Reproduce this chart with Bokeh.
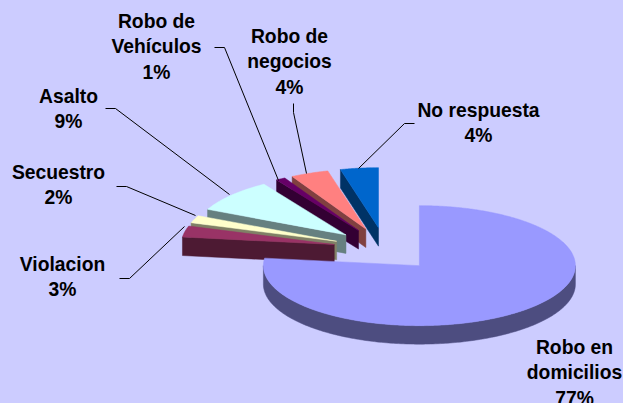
import numpy as np
from bokeh.plotting import figure
from bokeh.embed import file_html
from bokeh.resources import INLINE
from bokeh.core.properties import value

categories = ["Robo en domicilios", "Violacion", "Secuestro", "Asalto", "Robo de Vehículos", "Robo de negocios", "No respuesta"]
shares = [77, 3, 2, 9, 1, 4, 4]
label_lines = [["Robo en", "domicilios", "77%"], ["Violacion", "3%"], ["Secuestro", "2%"], ["Asalto", "9%"],
               ["Robo de", "Vehículos", "1%"], ["Robo de", "negocios", "4%"], ["No respuesta", "4%"]]
top_colors = ["#9999FF", "#993366", "#FFFFCC", "#CCFFFF", "#660066", "#FF8080", "#0066CC"]
wall_colors = ["#4D4D80", "#4D1A33", "#808066", "#668080", "#330033", "#804040", "#003366"]
label_anchor = [(574, 346.5), (62, 263.5), (58, 171.5), (68, 95.5), (156, 20.5), (289, 35.5), (478, 109.5)]
leaders = [None,
           [(119, 278), (129, 278), (184, 226)],
           [(116, 186), (126, 186), (195, 215)],
           [(105, 108), (115, 108), (229, 194)],
           [(214, 47), (224, 47), (278, 180)],
           [(293, 103), (293, 112), (306, 173)],
           [(414, 123), (404, 123), (358, 168)]]

W, H = 623, 403
CX, CY, RX_MAIN, RX_SLICE, RY, EXPLODE_X, EXPLODE_Y, DEPTH = 384.5, 248.8, 156, 153, 60, 52, 21.8, 18.5
BG = "#CCCCFF"
FONT = "Liberation Sans"

p = figure(width=W, height=H, x_range=(0, W), y_range=(H, 0), output_backend="svg",
           toolbar_location=None, min_border=0, outline_line_color=None,
           background_fill_color=BG, border_fill_color=BG)
p.axis.visible = False
p.grid.visible = False


def pt(ax, ay, deg, rx):
    t = np.radians(deg)
    return ax + rx * np.sin(t), ay - RY * np.cos(t)


edges = np.concatenate([[0], np.cumsum(shares)]) * 360.0 / sum(shares)
order = [6, 5, 4, 3, 2, 1, 0]
for i in order:
    rx = RX_MAIN if i == 0 else RX_SLICE
    a0, a1 = edges[i], edges[i + 1]
    mid = np.radians((a0 + a1) / 2)
    ax = CX + EXPLODE_X * np.sin(mid)
    ay = CY - EXPLODE_Y * np.cos(mid)
    ts = np.linspace(a0, a1, max(6, int(a1 - a0) * 2))
    ox, oy = pt(ax, ay, ts, rx)
    # outer wall (only the front half of the rim shows)
    lo, hi = max(a0, 90), min(a1, 270)
    if hi > lo:
        tw = np.linspace(lo, hi, 200)
        wx, wy = pt(ax, ay, tw, rx)
        p.patch(np.r_[wx, wx[::-1]], np.r_[wy, wy[::-1] + DEPTH], fill_color=wall_colors[i], line_color=wall_colors[i], line_width=0.5)
    # radial wall on the start edge, seen for the upper-left slices
    if i > 0:
        sx, sy = pt(ax, ay, a0, rx)
        p.patch([ax, sx, sx, ax], [ay, sy, sy + DEPTH, ay + DEPTH], fill_color=wall_colors[i], line_color=wall_colors[i], line_width=0.5)
    p.patch(np.r_[ax, ox], np.r_[ay, oy], fill_color=top_colors[i], line_color=top_colors[i], line_width=0.5)

for pts in leaders:
    if pts:
        p.line([q[0] for q in pts], [q[1] for q in pts], line_color="black", line_width=1)

for lines, (x, y) in zip(label_lines, label_anchor):
    for k, s in enumerate(lines):
        p.text([x], [y + k * 25.5], text=[s], text_align="center", text_baseline="middle", text_color="black",
               text_font=value(FONT), text_font_size="19.3px", text_font_style="bold")

html = file_html(p, INLINE)
html = html.replace("<head>", "<head><style>html,body{margin:0;padding:0;overflow:hidden;background:#CCCCFF}</style>", 1)
open("out.html", "w").write(html)
